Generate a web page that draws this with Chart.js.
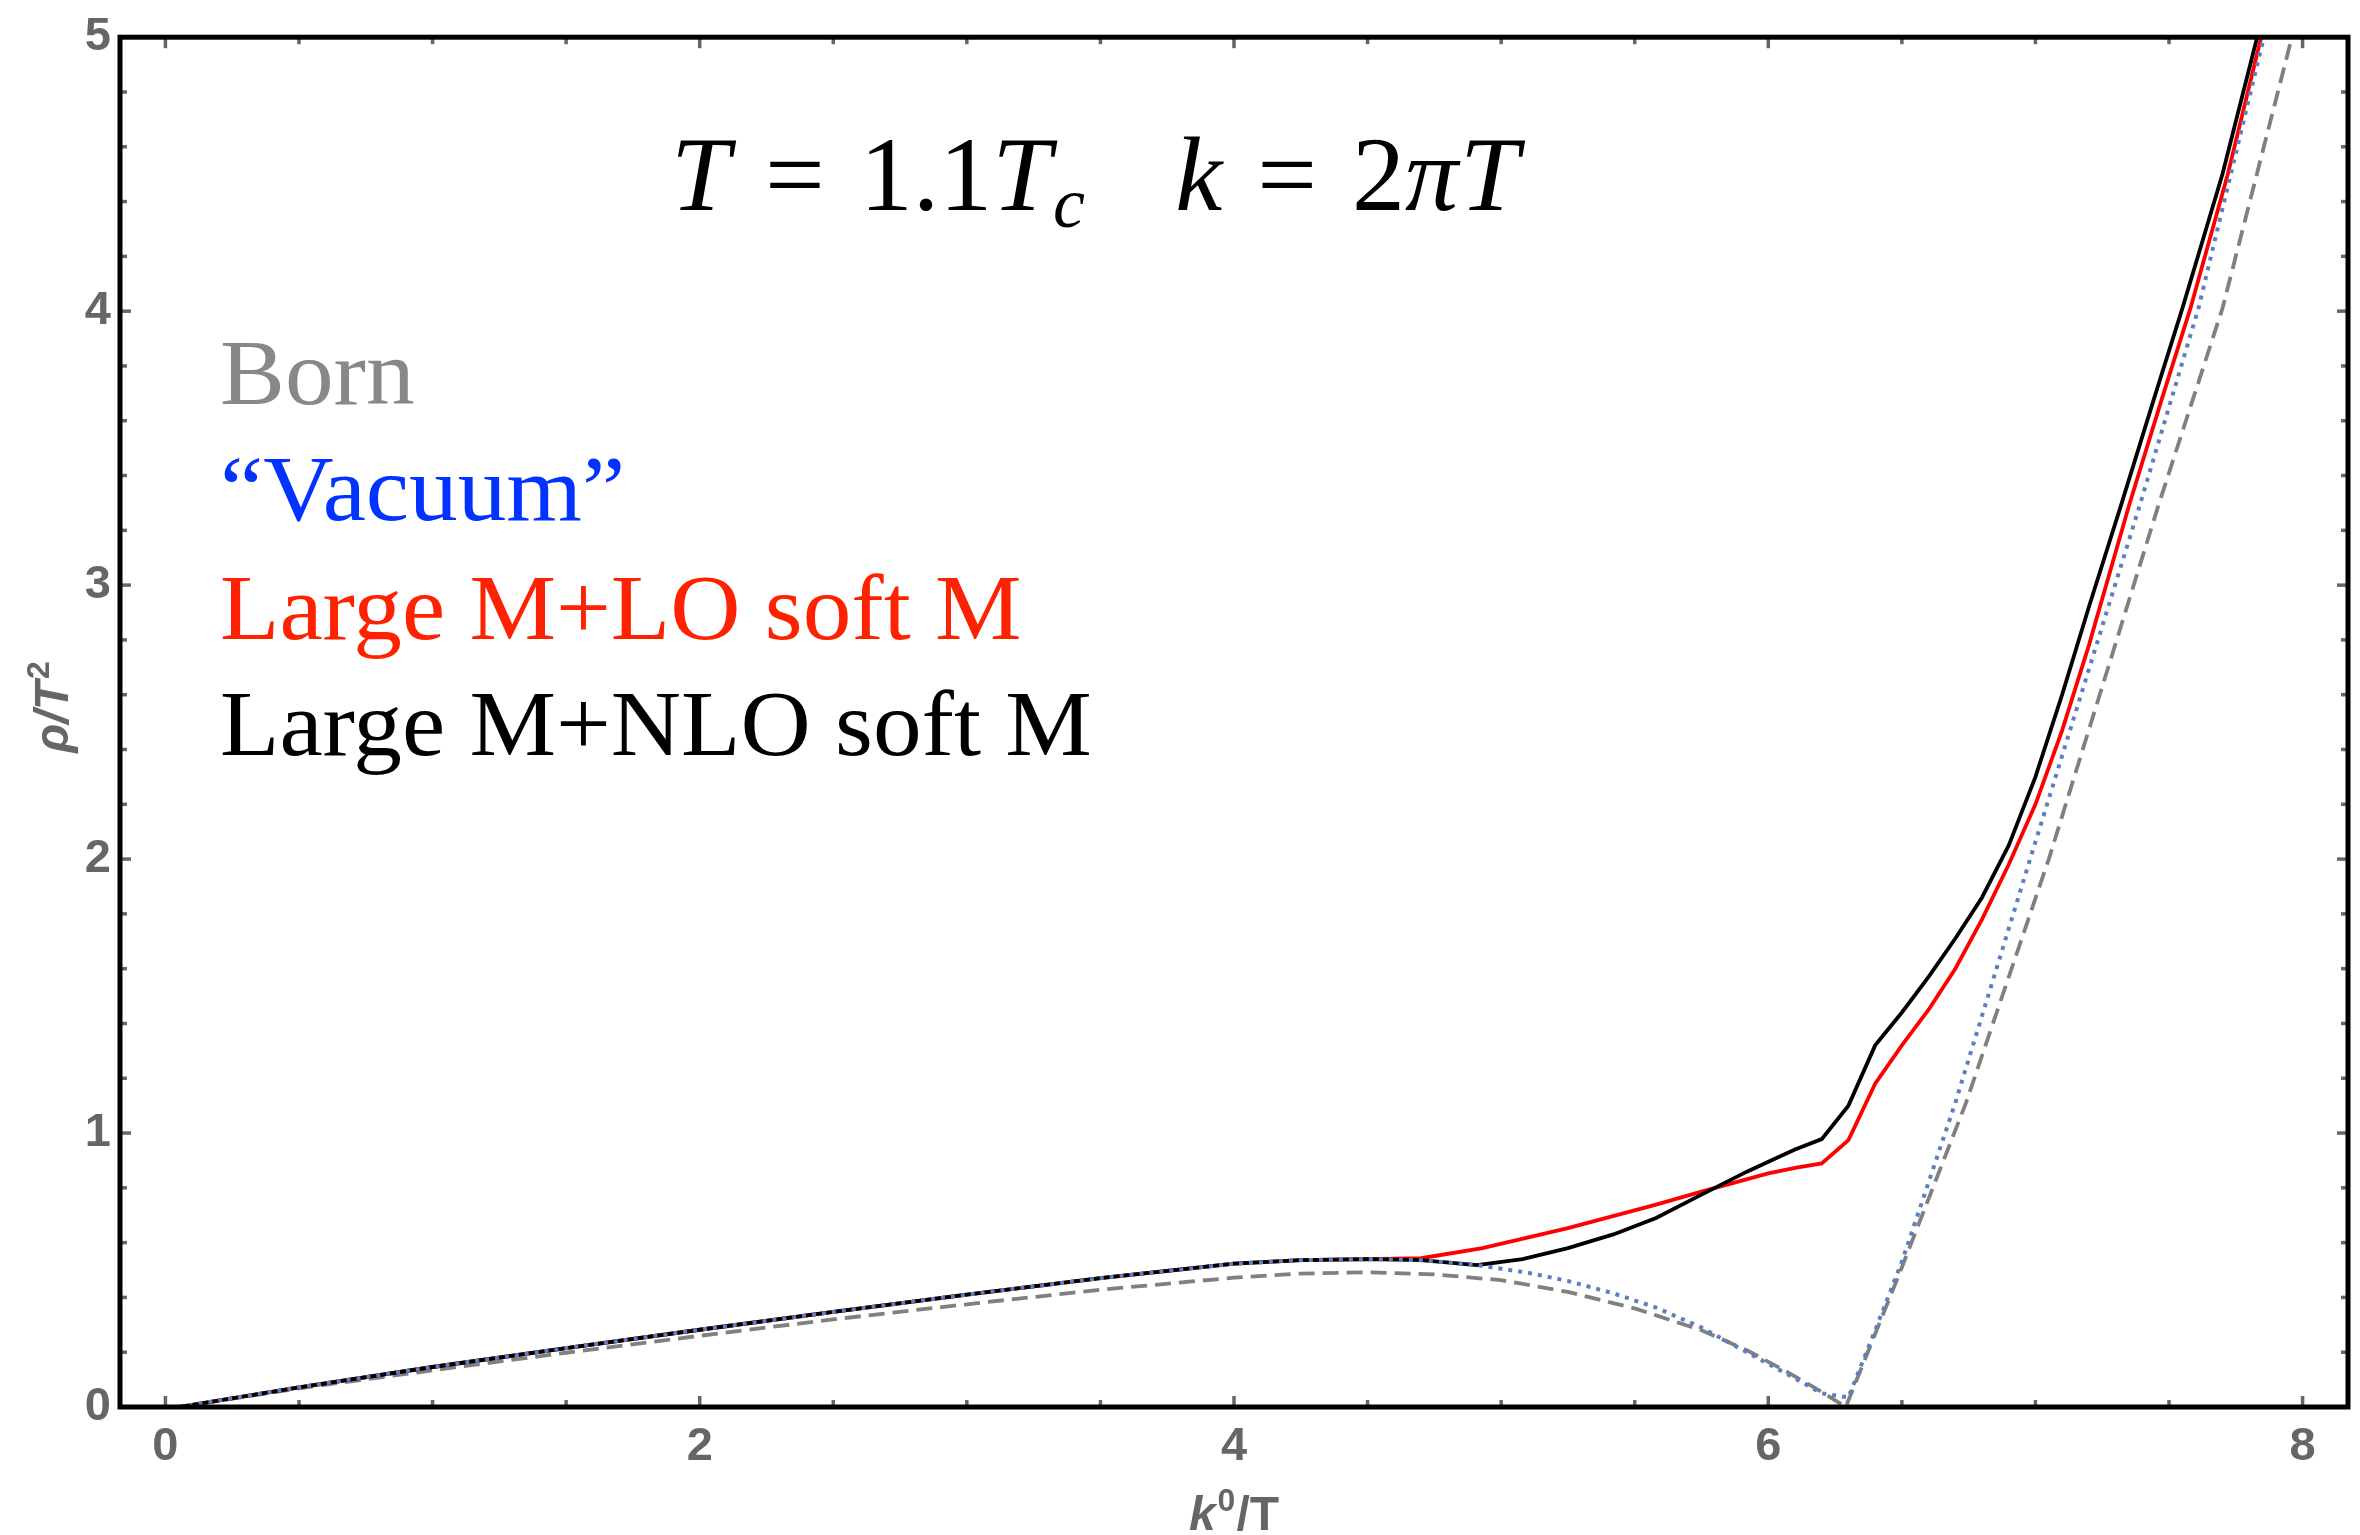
<!DOCTYPE html>
<html><head><meta charset="utf-8">
<script src="https://cdn.jsdelivr.net/npm/chart.js@4.4.1/dist/chart.umd.min.js"></script>
<style>html,body{margin:0;padding:0;background:#fff;}#wrap{width:2360px;height:1535px;}</style>
</head><body><div id="wrap"><canvas id="c" width="2360" height="1535"></canvas></div>
<script>
// ---- data ----
const bornX = [0.05,0.5,1.0,1.5,2.0,2.5,3.0,3.5,4.0,4.25,4.5,4.75,5.0,5.25,5.5,5.75,5.92,6.08,6.2,6.29,6.49,6.74,7.05,7.46,7.70,7.96,8.02];
const bornY = [0,0.068,0.134,0.198,0.26,0.32,0.375,0.428,0.472,0.487,0.492,0.484,0.463,0.42,0.36,0.28,0.207,0.123,0.055,0,0.485,1.11,2.0,3.29,4.01,5.0,5.2];

const vacX = [0.05,0.5,1.0,1.5,2.0,2.5,3.0,3.5,4.0,4.25,4.5,4.7,4.91,5.1,5.25,5.42,5.58,5.75,5.92,6.08,6.2,6.3,6.4,6.5,6.7,6.98,7.39,7.61,7.855,7.91];
const vacY = [0,0.072,0.146,0.215,0.282,0.347,0.41,0.47,0.523,0.536,0.54,0.536,0.518,0.49,0.46,0.415,0.363,0.29,0.2,0.115,0.05,0.035,0.28,0.53,1.11,2.0,3.29,4.01,5.0,5.22];

const loX = [0.05,0.5,1.0,1.5,2.0,2.5,3.0,3.5,4.0,4.25,4.5,4.7,4.93,5.25,5.58,5.75,6.0,6.1,6.2,6.3,6.4,6.5,6.6,6.7,6.8,6.9,7.0,7.1,7.2,7.35,7.47,7.58,7.72,7.845,7.9];
const loY = [0,0.072,0.146,0.215,0.282,0.347,0.41,0.47,0.523,0.536,0.54,0.543,0.58,0.653,0.739,0.786,0.853,0.873,0.889,0.974,1.18,1.32,1.45,1.6,1.78,1.98,2.2,2.47,2.78,3.29,3.67,4.01,4.5,5.0,5.2];

const nloX = [0.05,0.5,1.0,1.5,2.0,2.5,3.0,3.5,4.0,4.25,4.5,4.7,4.91,5.08,5.25,5.42,5.58,5.75,5.92,6.0,6.1,6.2,6.3,6.4,6.5,6.6,6.7,6.8,6.9,7.0,7.1,7.2,7.32,7.45,7.55,7.7,7.83,7.88];
const nloY = [0,0.072,0.146,0.215,0.282,0.347,0.41,0.47,0.523,0.536,0.54,0.536,0.518,0.54,0.58,0.63,0.69,0.775,0.859,0.895,0.94,0.978,1.1,1.32,1.44,1.57,1.71,1.86,2.05,2.3,2.6,2.92,3.29,3.7,4.01,4.5,5.0,5.18];

const seriesNames = ['Born', '\u201CVacuum\u201D', 'Large M+LO soft M', 'Large M+NLO soft M'];
const xTicks = [0, 2, 4, 6, 8];
const yTicks = [0, 1, 2, 3, 4, 5];
const xRange = [-0.17, 8.17];
const yRange = [0, 5];

const pts = (xs, ys) => xs.map((x, i) => ({x, y: ys[i]}));

// ---- plugins ----
const framePlugin = {
  id: 'frame',
  afterDatasetsDraw(chart) {
    const {ctx, chartArea: a, scales: {x, y}} = chart;
    ctx.save();
    ctx.strokeStyle = '#666666'; ctx.lineWidth = 3.5; ctx.lineCap = 'butt';
    const seg = (x1, y1, x2, y2) => { ctx.beginPath(); ctx.moveTo(x1, y1); ctx.lineTo(x2, y2); ctx.stroke(); };
    for (let i = 0; i <= 16; i++) {
      const v = i * 0.5; const major = i % 4 === 0; const L = major ? 11 : 7;
      const px = x.getPixelForValue(v);
      seg(px, a.bottom, px, a.bottom - L); seg(px, a.top, px, a.top + L);
    }
    for (let i = 0; i <= 25; i++) {
      const v = i * 0.2; const major = i % 5 === 0; const L = major ? 11 : 7;
      const py = y.getPixelForValue(v);
      seg(a.left, py, a.left + L, py); seg(a.right, py, a.right - L, py);
    }
    ctx.strokeStyle = '#000'; ctx.lineWidth = 5;
    ctx.strokeRect(a.left, a.top, a.right - a.left, a.bottom - a.top);
    ctx.restore();
  }
};

function runsWidth(ctx, runs) {
  let w = 0;
  for (const r of runs) { ctx.font = r.font; w += ctx.measureText(r.t).width + (r.sp || 0); }
  return w;
}
function drawRuns(ctx, runs, x0, base) {
  let cx = x0;
  for (const r of runs) {
    ctx.font = r.font;
    ctx.fillText(r.t, cx, base + (r.dy || 0));
    cx += ctx.measureText(r.t).width + (r.sp || 0);
  }
}

const textPlugin = {
  id: 'texts',
  afterDraw(chart) {
    const ctx = chart.ctx;
    ctx.save();
    ctx.textBaseline = 'alphabetic'; ctx.textAlign = 'left';
    // title (math)
    const S = 106, SF = "'Liberation Serif', 'Times New Roman', serif";
    const it = `italic ${S}px ${SF}`, up = `${S}px ${SF}`, sub = `italic ${Math.round(S*0.68)}px ${SF}`;
    const g = S * 0.33;
    const title = [
      {t: 'T', font: it, sp: g}, {t: '=', font: up, sp: g}, {t: '1.1', font: up},
      {t: 'T', font: it, sp: 2}, {t: 'c', font: sub, dy: 17, sp: S * 0.85},
      {t: 'k', font: it, sp: g}, {t: '=', font: up, sp: g}, {t: '2', font: up},
      {t: '\u03C0', font: it, sp: 2}, {t: 'T', font: it}
    ];
    ctx.fillStyle = '#000';
    const tw = runsWidth(ctx, title);
    drawRuns(ctx, title, 1095 - tw / 2, 210);

    // legend texts
    const LF = `94px ${SF}`;
    const colors = ['#888888', '#0033ff', '#ff2200', '#000000'];
    const bases = [404, 520, 639, 755];
    seriesNames.forEach((n, i) => {
      ctx.save();
      ctx.translate(220, bases[i]);
      ctx.scale(1.035, 1);
      ctx.font = LF; ctx.fillStyle = colors[i];
      ctx.fillText(n, 0, 0);
      ctx.restore();
    });

    // axis titles
    const AF = "'Liberation Sans', Arial, sans-serif";
    ctx.fillStyle = '#666666';
    const xt = [
      {t: 'k', font: `italic bold 48px ${AF}`, sp: 2},
      {t: '0', font: `bold 32px ${AF}`, dy: -19, sp: 1},
      {t: '/T', font: `bold 48px ${AF}`}
    ];
    const xw = runsWidth(ctx, xt);
    const xs = chart.scales.x;
    drawRuns(ctx, xt, xs.getPixelForValue(4) - xw / 2, 1530);

    const yt = [
      {t: '\u03C1/', font: `italic bold 48px ${AF}`},
      {t: 'T', font: `italic bold 48px ${AF}`, sp: 2},
      {t: '2', font: `bold 32px ${AF}`, dy: -19}
    ];
    const yw = runsWidth(ctx, yt);
    ctx.translate(68, 707);
    ctx.rotate(-Math.PI / 2);
    drawRuns(ctx, yt, -yw / 2, 0);
    ctx.restore();
  }
};

const tickFont = {family: "'Liberation Sans', Arial, sans-serif", size: 47, weight: 'bold'};

new Chart(document.getElementById('c'), {
  type: 'scatter',
  data: {
    datasets: [
      {label: seriesNames[0], data: pts(bornX, bornY), showLine: true, borderColor: '#808080', borderWidth: 3.8, borderDash: [16, 8], pointRadius: 0, tension: 0, order: 3, clip: 0},
      {label: seriesNames[1], data: pts(vacX, vacY), showLine: true, borderColor: '#5b7fc0', borderWidth: 4, borderDash: [4, 6], pointRadius: 0, tension: 0, order: 0, clip: 0},
      {label: seriesNames[2], data: pts(loX, loY), showLine: true, borderColor: '#ff0000', borderWidth: 3.8, pointRadius: 0, tension: 0, order: 2, clip: 0},
      {label: seriesNames[3], data: pts(nloX, nloY), showLine: true, borderColor: '#000000', borderWidth: 3.8, pointRadius: 0, tension: 0, order: 1, clip: 0}
    ]
  },
  options: {
    responsive: false, animation: false, devicePixelRatio: 1,
    layout: {padding: {left: 0, top: 29, right: 12, bottom: 0}},
    plugins: {legend: {display: false}, tooltip: {enabled: false}, title: {display: false}},
    scales: {
      x: {
        type: 'linear', min: xRange[0], max: xRange[1],
        grid: {display: false, drawTicks: false}, border: {display: false},
        ticks: {font: tickFont, color: '#666666', padding: 12, maxRotation: 0},
        afterBuildTicks: s => { s.ticks = xTicks.map(v => ({value: v})); },
        afterFit: s => { s.height = 128; }
      },
      y: {
        type: 'linear', min: yRange[0], max: yRange[1],
        grid: {display: false, drawTicks: false}, border: {display: false},
        ticks: {font: tickFont, color: '#666666', padding: 9},
        afterBuildTicks: s => { s.ticks = yTicks.map(v => ({value: v})); },
        afterFit: s => { s.width = 120; }
      }
    }
  },
  plugins: [framePlugin, textPlugin]
});
</script></body></html>
